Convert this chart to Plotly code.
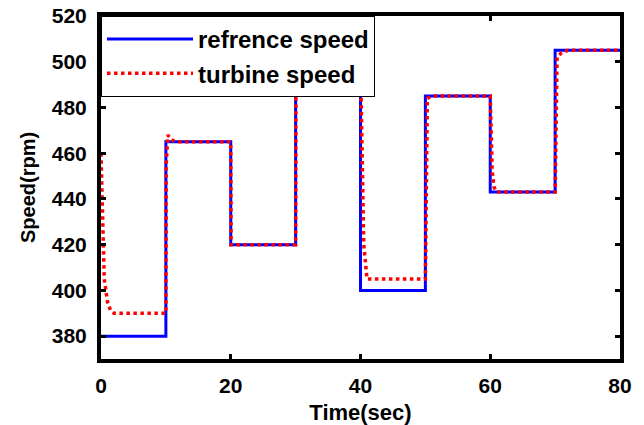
import plotly.graph_objects as go

# Reference speed set-points (step changes every 10 s)
ref_time = [0, 10, 20, 30, 40, 50, 60, 70, 80]
ref_speed = [380, 465, 420, 500, 400, 485, 443, 505, 505]

# Measured turbine speed response
turb_time = [0, 0.2, 0.5, 1.0, 1.5, 2.0, 10.0, 10.05, 10.3, 10.8, 11.5, 20.0, 20.05,
             30.0, 30.05, 40.0, 40.2, 40.5, 41.0, 50.0, 50.3, 51.0, 60.0, 60.3,
             60.6, 61.0, 70.0, 70.3, 71.0, 72.0, 80.0]
turb_speed = [460, 430, 405, 395, 391, 390, 390, 455, 468, 466, 465, 465, 420,
              420, 500, 500, 460, 420, 405, 405, 484, 485, 485, 452,
              445, 443, 443, 502, 504, 505, 505]

x_ticks = [0, 20, 40, 60, 80]
y_ticks = [380, 400, 420, 440, 460, 480, 500, 520]

fig = go.Figure()
fig.add_trace(go.Scatter(
    x=ref_time, y=ref_speed, mode="lines", line_shape="hv",
    name="refrence speed", legendgroup="a",
    line=dict(color="#0000ff", width=3),
))
fig.add_trace(go.Scatter(
    x=turb_time, y=turb_speed, mode="lines",
    name="turbine speed", legendgroup="b",
    line=dict(color="#ff0000", width=3.5, dash="dot"),
))

axis_font = dict(family="Liberation Sans", size=21, color="black", weight="bold")

fig.update_layout(
    width=644, height=425,
    margin=dict(l=101, r=24, t=16, b=66),
    paper_bgcolor="white", plot_bgcolor="white",
    showlegend=True,
    legend=dict(
        x=0, y=1, xanchor="left", yanchor="top",
        bgcolor="white", bordercolor="black", borderwidth=1,
        font=dict(family="Liberation Sans", size=24, color="black", weight="bold"),
        itemwidth=86, tracegroupgap=0,
    ),
    xaxis=dict(
        range=[0, 80], tickvals=x_ticks, ticktext=[str(v) for v in x_ticks],
        showline=True, linecolor="black", linewidth=4, mirror="ticks",
        ticks="inside", ticklen=5, tickwidth=3, tickcolor="black",
        showgrid=False, zeroline=False, tickfont=axis_font, automargin=False,
        ticklabelstandoff=5,
        title=dict(text="Time(sec)", font=dict(family="Liberation Sans", size=22,
                                              color="black", weight="bold"), standoff=10),
    ),
    yaxis=dict(
        range=[370, 520], tickvals=y_ticks, ticktext=[str(v) for v in y_ticks],
        showline=True, linecolor="black", linewidth=4, mirror="ticks",
        ticks="inside", ticklen=5, tickwidth=3, tickcolor="black",
        showgrid=False, zeroline=False, tickfont=axis_font, automargin=False,
        ticklabelstandoff=6,
        title=dict(text="Speed(rpm)", font=dict(family="Liberation Sans", size=20,
                                               color="black", weight="bold"), standoff=12),
    ),
)

fig.write_html("out.html")
